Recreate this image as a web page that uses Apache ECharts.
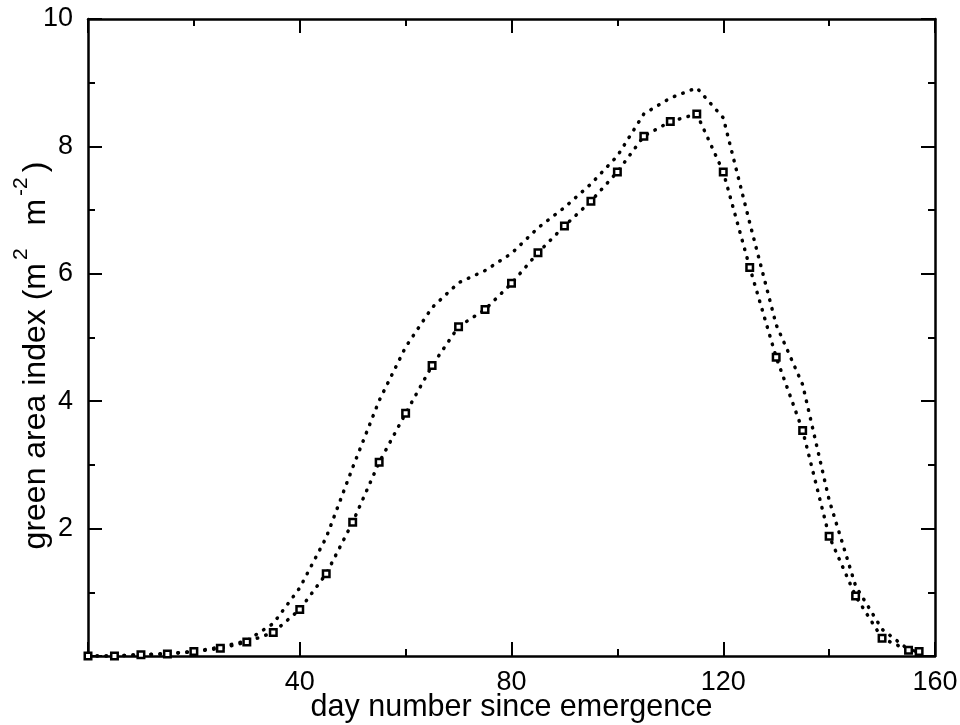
<!DOCTYPE html>
<html>
<head>
<meta charset="utf-8">
<script src="https://cdn.jsdelivr.net/npm/echarts@6/dist/echarts.min.js"></script>
<style>
html,body{margin:0;padding:0;background:#fff;}
#chart{width:960px;height:725px;}
</style>
</head>
<body>
<div id="chart"></div>
<script>
// Day number since emergence
var days = [0,5,10,15,20,25,30,35,40,45,50,55,60,65,70,75,80,85,90,95,100,105,110,115,120,125,130,135,140,145,150,155,157];
// Lower curve (with square markers)
var gaiMarked = [0,0.0,0.02,0.03,0.07,0.12,0.22,0.37,0.73,1.29,2.1,3.04,3.81,4.56,5.17,5.44,5.85,6.33,6.75,7.14,7.6,8.16,8.39,8.51,7.6,6.1,4.69,3.54,1.88,0.94,0.28,0.09,0.07];
// Upper curve (dotted only)
var gaiUpper = [0,0.0,0.02,0.04,0.07,0.14,0.24,0.51,1.07,1.86,2.96,4.01,4.85,5.47,5.86,6.05,6.32,6.72,7.04,7.41,7.85,8.51,8.76,8.92,8.45,6.8,5.2,4.26,2.45,1.1,0.42,0.1,0.07];
var xTickLabels = [40,80,120,160];
var yTickLabels = [2,4,6,8,10];

var FONT = 'Liberation Sans, Arial, Helvetica, sans-serif';
function pairs(xs, ys){ return xs.map(function(x,i){ return [x, ys[i]]; }); }

var axisLineStyle = {color:'#000', width:2.5};
var tickStyle = {color:'#000', width:2};

function xAxisCfg(pos, showLabel){
  return {
    type:'value', position:pos, min:0, max:160, interval:40,
    axisLine:{show:true, onZero:false, lineStyle:axisLineStyle},
    axisTick:{show:true, inside:true, length:14, lineStyle:tickStyle},
    minorTick:{show:true, splitNumber:2, length:7, lineStyle:tickStyle},
    splitLine:{show:false}, minorSplitLine:{show:false},
    axisLabel:{show:showLabel, margin:13, color:'#000', fontFamily:FONT, fontSize:27,
      formatter:function(v){ return xTickLabels.indexOf(v) >= 0 ? String(v) : ''; }},
    name: showLabel ? 'day number since emergence' : '',
    nameLocation:'middle', nameGap:36, nameMoveOverlap:false,
    nameTextStyle:{color:'#000', fontFamily:FONT, fontSize:30.5}
  };
}
function yAxisCfg(pos, showLabel){
  return {
    type:'value', position:pos, min:0, max:10, interval:2,
    axisLine:{show:true, onZero:false, lineStyle:axisLineStyle},
    axisTick:{show:true, inside:true, length:14, lineStyle:tickStyle},
    minorTick:{show:true, splitNumber:2, length:7, lineStyle:tickStyle},
    splitLine:{show:false}, minorSplitLine:{show:false},
    axisLabel:{show:showLabel, margin:15, color:'#000', fontFamily:FONT, fontSize:27,
      formatter:function(v){ return yTickLabels.indexOf(v) >= 0 ? String(v) : ''; }},
    name: showLabel ? '{n|green area index (m}{sup|2}{n|  m}{sup|-2}{n|)}' : '',
    nameLocation:'middle', nameGap:36, nameMoveOverlap:false,
    nameTextStyle:{color:'#000', fontFamily:FONT, fontSize:32, padding:[0,36,0,0],
      rich:{
        n:{fontSize:32, fontFamily:FONT, color:'#000', lineHeight:41, verticalAlign:'bottom'},
        sup:{fontSize:21, fontFamily:FONT, color:'#000', lineHeight:21, verticalAlign:'top', padding:[0,5,0,3]}
      }}
  };
}

var dotted = {color:'#000', width:3.5, type:[0.5,8.5], cap:'round'};

var chart = echarts.init(document.getElementById('chart'), null, {renderer:'canvas'});
chart.setOption({
  backgroundColor:'#fff',
  animation:false,
  grid:{left:88, right:25, top:19, bottom:69, containLabel:false, outerBoundsMode:'none'},
  xAxis:[xAxisCfg('bottom', true), xAxisCfg('top', false)],
  yAxis:[yAxisCfg('left', true), yAxisCfg('right', false)],
  series:[
    {type:'line', data:pairs(days, gaiUpper), showSymbol:false, symbol:'none',
     lineStyle:dotted, itemStyle:{color:'#000'}, z:2},
    {type:'line', data:pairs(days, gaiMarked), symbol:'rect', symbolSize:6.5, showSymbol:true,
     lineStyle:dotted, itemStyle:{color:'#fff', borderColor:'#000', borderWidth:2.5}, z:3}
  ]
});
</script>
</body>
</html>
